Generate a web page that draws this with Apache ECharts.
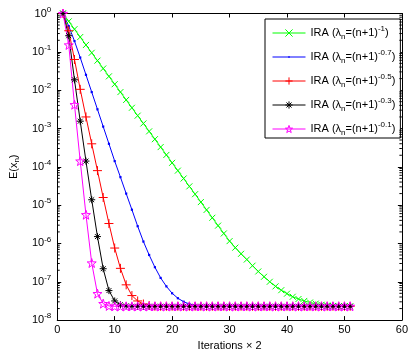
<!DOCTYPE html>
<html>
<head>
<meta charset="utf-8">
<script src="https://cdn.jsdelivr.net/npm/echarts@6/dist/echarts.min.js"></script>
<style>
html,body{margin:0;padding:0;background:#fff;}
#chart{width:411px;height:356px;}
</style>
</head>
<body>
<div id="chart"></div>
<script>
// Iteration index (x)
const iterations = [1,2,3,4,5,6,7,8,9,10,11,12,13,14,15,16,17,18,19,20,21,22,23,24,25,26,27,28,29,30,31,32,33,34,35,36,37,38,39,40,41,42,43,44,45,46,47,48,49,50,51];

// E(x_n) for lambda_n = (n+1)^-1
const errP10 = [1, 0.624, 0.389, 0.243, 0.151, 0.0944, 0.0589, 0.0367, 0.0229, 0.0143,
  8.91e-3, 5.56e-3, 3.47e-3, 2.16e-3, 1.35e-3, 8.41e-4, 5.25e-4, 3.27e-4, 2.04e-4, 1.27e-4,
  7.94e-5, 4.95e-5, 3.09e-5, 1.93e-5, 1.20e-5, 7.50e-6, 4.68e-6, 2.92e-6, 1.82e-6, 1.15e-6,
  7.76e-7, 5.37e-7, 3.80e-7, 2.63e-7, 1.86e-7, 1.35e-7, 1.00e-7, 7.59e-8, 6.03e-8, 4.90e-8,
  4.07e-8, 3.55e-8, 3.16e-8, 2.88e-8, 2.69e-8, 2.51e-8, 2.40e-8, 2.34e-8, 2.29e-8, 2.29e-8,
  2.29e-8];
// lambda_n = (n+1)^-0.7
const errP07 = [1, 0.468, 0.191, 0.0708, 0.0251, 8.91e-3, 3.16e-3, 1.12e-3, 3.98e-4, 1.41e-4,
  5.37e-5, 2.00e-5, 7.59e-6, 2.82e-6, 1.12e-6, 5.01e-7, 2.40e-7, 1.26e-7, 7.59e-8, 5.01e-8,
  3.72e-8, 3.02e-8, 2.63e-8, 2.40e-8, 2.29e-8, 2.29e-8, 2.29e-8, 2.29e-8, 2.29e-8, 2.29e-8,
  2.29e-8, 2.29e-8, 2.29e-8, 2.29e-8, 2.29e-8, 2.29e-8, 2.29e-8, 2.29e-8, 2.29e-8, 2.29e-8,
  2.29e-8, 2.29e-8, 2.29e-8, 2.29e-8, 2.29e-8, 2.29e-8, 2.29e-8, 2.29e-8, 2.29e-8, 2.29e-8,
  2.29e-8];
// lambda_n = (n+1)^-0.5
const errP05 = [1, 0.355, 0.0631, 0.0105, 2.00e-3, 3.98e-4, 7.94e-5, 1.58e-5, 3.31e-6, 7.59e-7,
  2.24e-7, 8.32e-8, 4.37e-8, 3.16e-8, 2.63e-8, 2.40e-8, 2.29e-8, 2.29e-8, 2.29e-8, 2.29e-8,
  2.29e-8, 2.29e-8, 2.29e-8, 2.29e-8, 2.29e-8, 2.29e-8, 2.29e-8, 2.29e-8, 2.29e-8, 2.29e-8,
  2.29e-8, 2.29e-8, 2.29e-8, 2.29e-8, 2.29e-8, 2.29e-8, 2.29e-8, 2.29e-8, 2.29e-8, 2.29e-8,
  2.29e-8, 2.29e-8, 2.29e-8, 2.29e-8, 2.29e-8, 2.29e-8, 2.29e-8, 2.29e-8, 2.29e-8, 2.29e-8,
  2.29e-8];
// lambda_n = (n+1)^-0.3
const errP03 = [1, 0.263, 0.0186, 1.55e-3, 1.41e-4, 1.38e-5, 1.51e-6, 2.19e-7, 5.89e-8, 3.16e-8,
  2.51e-8, 2.34e-8, 2.29e-8, 2.29e-8, 2.29e-8, 2.29e-8, 2.29e-8, 2.29e-8, 2.29e-8, 2.29e-8,
  2.29e-8, 2.29e-8, 2.29e-8, 2.29e-8, 2.29e-8, 2.29e-8, 2.29e-8, 2.29e-8, 2.29e-8, 2.29e-8,
  2.29e-8, 2.29e-8, 2.29e-8, 2.29e-8, 2.29e-8, 2.29e-8, 2.29e-8, 2.29e-8, 2.29e-8, 2.29e-8,
  2.29e-8, 2.29e-8, 2.29e-8, 2.29e-8, 2.29e-8, 2.29e-8, 2.29e-8, 2.29e-8, 2.29e-8, 2.29e-8,
  2.29e-8];
// lambda_n = (n+1)^-0.1
const errP01 = [1, 0.151, 4.17e-3, 1.41e-4, 5.62e-6, 3.09e-7, 4.90e-8, 2.69e-8, 2.34e-8, 2.29e-8,
  2.29e-8, 2.29e-8, 2.29e-8, 2.29e-8, 2.29e-8, 2.29e-8, 2.29e-8, 2.29e-8, 2.29e-8, 2.29e-8,
  2.29e-8, 2.29e-8, 2.29e-8, 2.29e-8, 2.29e-8, 2.29e-8, 2.29e-8, 2.29e-8, 2.29e-8, 2.29e-8,
  2.29e-8, 2.29e-8, 2.29e-8, 2.29e-8, 2.29e-8, 2.29e-8, 2.29e-8, 2.29e-8, 2.29e-8, 2.29e-8,
  2.29e-8, 2.29e-8, 2.29e-8, 2.29e-8, 2.29e-8, 2.29e-8, 2.29e-8, 2.29e-8, 2.29e-8, 2.29e-8,
  2.29e-8];

const exponents = ['-1', '-0.7', '-0.5', '-0.3', '-0.1'];
const seriesNames = exponents.map(e => 'IRA (λn=(n+1)^' + e + ')');
const seriesColors = ['#00ff00', '#0000ff', '#ff0000', '#000000', '#ff00ff'];
const xTicks = [0, 10, 20, 30, 40, 50, 60];
const yMinPow = -8, yMaxPow = 0;

const FONT = "'Liberation Sans', Arial, Helvetica, sans-serif";

const symX = 'path://M0,0L10,10M10,0L0,10';
const symPlus = 'path://M5,0L5,10M0,5L10,5';
const symAst = 'path://M5,0L5,10M0,5L10,5M1.5,1.5L8.5,8.5M8.5,1.5L1.5,8.5';
const symStar = 'path://M5,0L6.18,3.38L9.76,3.45L6.9,5.62L7.94,9.05L5,7L2.06,9.05L3.1,5.62L0.24,3.45L3.82,3.38Z';
const symDot = 'path://M0,0L0,0M10,10L10,10M4,4L6,4L6,6L4,6Z';
const stroked = [true, false, true, true, true];

function pairs(arr) { return iterations.map((x, i) => [x, arr[i]]); }

function symStyle(i) {
  const c = seriesColors[i];
  return stroked[i]
    ? { color: 'rgba(255,255,255,0)', borderColor: c, borderWidth: 1 }
    : { color: c, borderColor: c, borderWidth: 0 };
}

function mkSeries(i, data, symbol, size) {
  const color = seriesColors[i];
  return {
    name: seriesNames[i],
    type: 'line',
    data: pairs(data),
    symbol: symbol,
    symbolSize: size,
    showSymbol: true,
    animation: false,
    color: color,
    lineStyle: { color: color, width: 1 },
    itemStyle: symStyle(i),
    emphasis: { disabled: true }
  };
}

// minor log ticks (2..9 x 10^k) — axis decoration positions
const minorTickVals = [];
for (let p = yMinPow; p < yMaxPow; p++) {
  for (let k = 2; k <= 9; k++) minorTickVals.push([0, k * Math.pow(10, p)]);
}

const chart = echarts.init(document.getElementById('chart'), null, { renderer: 'canvas' });

const axisLbl = { fontFamily: FONT, fontSize: 11, color: '#000' };

chart.setOption({
  animation: false,
  backgroundColor: '#fff',
  grid: { left: 54, top: 13.5, right: 5.5, bottom: 34.5, containLabel: false },
  xAxis: [{
    type: 'value', min: 0, max: 60, interval: 10, position: 'bottom',
    name: 'Iterations × 2', nameLocation: 'middle', nameGap: 17,
    nameTextStyle: { fontFamily: FONT, fontSize: 11, color: '#000' },
    axisLine: { show: true, onZero: false, lineStyle: { color: '#000', width: 1 } },
    axisTick: { show: true, inside: true, length: 4, lineStyle: { color: '#000' } },
    axisLabel: Object.assign({ margin: 4 }, axisLbl),
    splitLine: { show: false }
  }, {
    type: 'value', min: 0, max: 60, interval: 10, position: 'top',
    axisLine: { show: true, onZero: false, lineStyle: { color: '#000', width: 1 } },
    axisTick: { show: true, inside: true, length: 4, lineStyle: { color: '#000' } },
    axisLabel: { show: false },
    splitLine: { show: false }
  }],
  yAxis: [{
    type: 'log', logBase: 10, min: 1e-8, max: 1, interval: 1, position: 'left',
    name: 'E(x{sub|n})', nameLocation: 'middle', nameGap: 36, nameRotate: 90,
    nameTextStyle: {
      fontFamily: FONT, fontSize: 11, color: '#000',
      rich: { sub: { fontFamily: FONT, fontSize: 8, color: '#000', padding: [7, 0, 0, 0] } }
    },
    axisLine: { show: true, onZero: false, lineStyle: { color: '#000', width: 1 } },
    axisTick: { show: true, inside: true, length: 4, lineStyle: { color: '#000' } },
    axisLabel: {
      margin: 6,
      formatter: function (v) {
        const e = Math.round(Math.log10(v));
        return '{b|10}{s|' + (e < 0 ? '-' + (-e) : e) + '}';
      },
      rich: {
        b: { fontFamily: FONT, fontSize: 11, color: '#000' },
        s: { fontFamily: FONT, fontSize: 8, color: '#000', padding: [0, 0, 8, 0] }
      }
    },
    splitLine: { show: false }
  }, {
    type: 'log', logBase: 10, min: 1e-8, max: 1, interval: 1, position: 'right',
    axisLine: { show: true, onZero: false, lineStyle: { color: '#000', width: 1 } },
    axisTick: { show: true, inside: true, length: 4, lineStyle: { color: '#000' } },
    axisLabel: { show: false },
    splitLine: { show: false }
  }],
  legend: {
    data: seriesNames.map((n, i) => ({ name: n, itemStyle: symStyle(i), lineStyle: { color: seriesColors[i], width: 1 } })),
    orient: 'vertical',
    left: 265, top: 19,
    padding: [6, 5, 1, 7],
    itemWidth: 33, itemHeight: 9, itemGap: 8,
    borderColor: '#000', borderWidth: 1, backgroundColor: '#fff',
    selectedMode: false,
    lineStyle: { width: 1 },
    formatter: function (name) {
      const e = exponents[seriesNames.indexOf(name)];
      return '{t|IRA (λ}{sub|n}{t|=(n+1)}{sup|' + e + '}{t|)}';
    },
    textStyle: {
      fontFamily: FONT, fontSize: 11, color: '#000',
      rich: {
        t: { fontFamily: FONT, fontSize: 11, color: '#000' },
        sub: { fontFamily: FONT, fontSize: 8, color: '#000', padding: [8, 0, 0, 0] },
        sup: { fontFamily: FONT, fontSize: 8, color: '#000', padding: [0, 0, 8, 0] }
      }
    }
  },
  series: [
    mkSeries(0, errP10, symX, 6),
    mkSeries(1, errP07, symDot, 11),
    mkSeries(2, errP05, symPlus, 9),
    mkSeries(3, errP03, symAst, 7),
    mkSeries(4, errP01, symStar, 9),
    {
      type: 'custom',
      silent: true,
      animation: false,
      xAxisIndex: 0, yAxisIndex: 0,
      clip: false,
      z: 5,
      data: minorTickVals,
      renderItem: function (params, api) {
        const v = api.value(1);
        const p = api.coord([0, v]);
        const q = api.coord([60, v]);
        return {
          type: 'group',
          children: [
            { type: 'line', shape: { x1: p[0], y1: p[1], x2: p[0] + 2.5, y2: p[1] }, style: { stroke: '#000', lineWidth: 1 } },
            { type: 'line', shape: { x1: q[0] - 2.5, y1: q[1], x2: q[0], y2: q[1] }, style: { stroke: '#000', lineWidth: 1 } }
          ]
        };
      }
    }
  ]
});
</script>
</body>
</html>
